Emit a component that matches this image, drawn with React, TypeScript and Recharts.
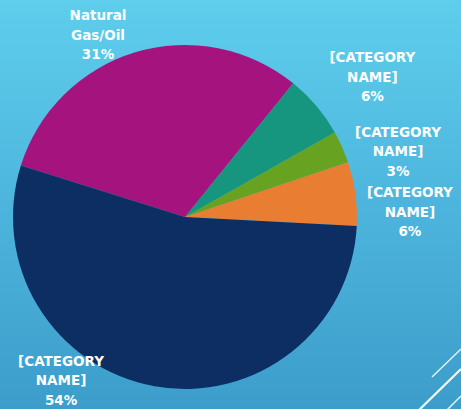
import React from "react";
import { PieChart, Pie, Cell } from "recharts";

const categories = ["Natural Gas/Oil", "[CATEGORY NAME]", "[CATEGORY NAME]", "[CATEGORY NAME]", "[CATEGORY NAME]"];
const labelLines = [
  ["Natural", "Gas/Oil"],
  ["[CATEGORY", "NAME]"],
  ["[CATEGORY", "NAME]"],
  ["[CATEGORY", "NAME]"],
  ["[CATEGORY", "NAME]"],
];
const values = [31, 6, 3, 6, 54];
const colors = ["#A5137F", "#17967F", "#67A321", "#E97E33", "#0C2E62"];
// label placement: angle offset from slice mid-angle (deg) and extra distance beyond outer radius
const labelAngleOffset = [8.7, -3.4, -6.8, -6.5, -27];
const labelExtraRadius = [30, 62, 51, 53, 33];

const data = categories.map((name, i) => ({ name, value: values[i], idx: i }));

const RAD = Math.PI / 180;

const renderLabel = (props: any) => {
  const { cx, cy, midAngle, outerRadius, index, percent } = props;
  const ang = (midAngle + labelAngleOffset[index]) * RAD;
  const r = outerRadius + labelExtraRadius[index];
  const x = cx + r * Math.cos(ang);
  const y = cy - r * Math.sin(ang);
  const lines = [...labelLines[index], `${Math.round(percent * 100)}%`];
  const lh = 19.5;
  return (
    <text
      x={x}
      y={y}
      textAnchor="middle"
      fill="#ffffff"
      fontFamily="'DejaVu Sans', sans-serif"
      fontWeight={700}
      fontSize={13.5}
    >
      {lines.map((t, k) => (
        <tspan key={k} x={x} y={y + (k - 1) * lh + 5}>
          {t}
        </tspan>
      ))}
    </text>
  );
};

export default function App() {
  return (
    <div
      style={{
        position: "absolute",
        left: 0,
        top: 0,
        width: 461,
        height: 409,
        overflow: "hidden",
        background: "linear-gradient(180deg, #5ECEEC 0%, #4DB5DD 50%, #3C9DCA 100%)",
      }}
    >
      <PieChart
        width={461}
        height={409}
        margin={{ top: 0, right: 0, bottom: 0, left: 0 }}
        style={{ position: "absolute", left: 0, top: 0 }}
      >
        <Pie
          data={data}
          dataKey="value"
          nameKey="name"
          cx={185}
          cy={217}
          outerRadius={172}
          startAngle={162.6}
          endAngle={-197.4}
          stroke="none"
          labelLine={false}
          label={renderLabel}
          isAnimationActive={false}
        >
          {data.map((d, i) => (
            <Cell key={i} fill={colors[i]} />
          ))}
        </Pie>
      </PieChart>
      <svg
        width={461}
        height={409}
        style={{ position: "absolute", left: 0, top: 0, pointerEvents: "none" }}
      >
        <line x1={432} y1={377} x2={461} y2={349} stroke="#ffffff" strokeWidth={1.5} opacity={0.85} />
        <line x1={418} y1={411} x2={461} y2={369} stroke="#ffffff" strokeWidth={2.2} opacity={0.95} />
        <line x1={446} y1={411} x2={461} y2={396} stroke="#ffffff" strokeWidth={1.5} opacity={0.85} />
      </svg>
    </div>
  );
}
